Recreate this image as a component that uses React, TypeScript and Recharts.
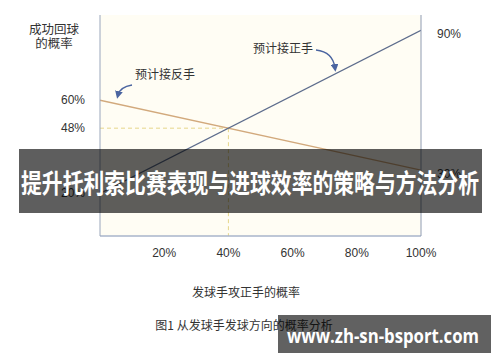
import React from "react";
import { LineChart, Line, XAxis, YAxis, ReferenceLine, CartesianGrid } from "recharts";

const xValues = [0, 100];
const forehand = [20, 90];
const backhand = [60, 30];
const xTicks = [20, 40, 60, 80, 100];
const leftTicks = [20, 48, 60];
const rightTicks = [30, 90];
const crossX = 40;
const crossY = 48;

const forehandData = xValues.map((x, i) => ({ x, y: forehand[i] }));
const backhandData = xValues.map((x, i) => ({ x, y: backhand[i] }));

const FONT = "'Liberation Sans', 'Noto Sans CJK SC', sans-serif";
const CJK = "'Noto Sans CJK SC', sans-serif";
const Y_DOMAIN: [number, number] = [1.7, 96.6];

const XTick = (p: any) => (
  <text x={p.x} y={257} textAnchor="middle" fontSize={12} fill="#333" fontFamily={FONT}>
    {p.payload.value}%
  </text>
);
const LTick = (p: any) => (
  <text x={85} y={p.y + 4} textAnchor="end" fontSize={12} fill="#333" fontFamily={FONT}>
    {p.payload.value}%
  </text>
);
const RTick = (p: any) => (
  <text x={437} y={p.y + 8} textAnchor="start" fontSize={12} fill="#333" fontFamily={FONT}>
    {p.payload.value}%
  </text>
);

export default function App() {
  return (
    <div style={{ position: "absolute", left: 0, top: 0, width: 500, height: 362, background: "#fff" }}>
      <LineChart width={500} height={362} margin={{ top: 15, right: 0, left: 0, bottom: 96 }}>
        <CartesianGrid horizontal={false} vertical={false} fill="#fffdf4" />
        <XAxis
          type="number"
          dataKey="x"
          domain={[0, 100]}
          ticks={xTicks}
          allowDataOverflow
          height={30}
          axisLine={{ stroke: "#a9b4cb", strokeWidth: 1.5 }}
          tickLine={false}
          tick={<XTick />}
        />
        <YAxis
          type="number"
          domain={Y_DOMAIN}
          ticks={leftTicks}
          allowDataOverflow
          width={100}
          axisLine={{ stroke: "#9aa6bb" }}
          tickLine={false}
          tick={<LTick />}
        />
        <YAxis
          yAxisId="r"
          orientation="right"
          type="number"
          domain={Y_DOMAIN}
          ticks={rightTicks}
          allowDataOverflow
          width={79}
          axisLine={{ stroke: "#8f9bb2" }}
          tickLine={false}
          tick={<RTick />}
        />
        <ReferenceLine
          segment={[{ x: 0, y: crossY }, { x: crossX, y: crossY }]}
          stroke="#e6d68a"
          strokeDasharray="4 3"
        />
        <ReferenceLine
          segment={[{ x: crossX, y: crossY }, { x: crossX, y: Y_DOMAIN[0] }]}
          stroke="#e6d68a"
          strokeDasharray="4 3"
        />
        <Line
          data={backhandData}
          dataKey="y"
          type="linear"
          stroke="#d2a97c"
          strokeWidth={1.3}
          dot={false}
          isAnimationActive={false}
        />
        <Line
          data={forehandData}
          dataKey="y"
          type="linear"
          stroke="#5d6c8c"
          strokeWidth={1.3}
          dot={false}
          isAnimationActive={false}
        />
      </LineChart>
      <svg
        width={500}
        height={362}
        style={{ position: "absolute", left: 0, top: 0, pointerEvents: "none" }}
      >
        <defs>
          <marker id="ah" markerWidth="6" markerHeight="6" refX="3" refY="3" orient="auto">
            <path d="M0,0 L6,3 L0,6 Z" fill="#4a64a0" />
          </marker>
        </defs>
        <text x={54} y={34} textAnchor="middle" fontSize={12.5} fill="#333" fontFamily={CJK}>成功回球</text>
        <text x={54} y={48} textAnchor="middle" fontSize={12.5} fill="#333" fontFamily={CJK}>的概率</text>
        <text x={165} y={79} textAnchor="middle" fontSize={12} fill="#333" fontFamily={CJK}>预计接反手</text>
        <path d="M132,85 Q120,87 118,95" stroke="#4a64a0" strokeWidth={1.3} fill="none" markerEnd="url(#ah)" />
        <text x={283} y={53} textAnchor="middle" fontSize={12} fill="#333" fontFamily={CJK}>预计接正手</text>
        <path d="M316,50 Q333,52 335,68" stroke="#4a64a0" strokeWidth={1.3} fill="none" markerEnd="url(#ah)" />
        <text x={246} y={297} textAnchor="middle" fontSize={12} fill="#333" fontFamily={CJK}>发球手攻正手的概率</text>
        <text x={244} y={330} textAnchor="middle" fontSize={12} fill="#333" fontFamily={CJK}>图1 从发球手发球方向的概率分析</text>
        <rect x={19} y={149} width={463} height={64} fill="rgba(0,0,0,0.63)" />
        <text
          x={21}
          y={193}
          fontSize={26}
          fontWeight={700}
          fill="#fff"
          fontFamily={CJK}
          textLength={458}
          lengthAdjust="spacingAndGlyphs"
        >
          提升托利索比赛表现与进球效率的策略与方法分析
        </text>
        <rect x={278} y={315} width={213} height={38} fill="rgba(0,0,0,0.62)" />
        <text
          x={287}
          y={343}
          fontSize={20}
          fontWeight={700}
          fill="#fff"
          fontFamily="'Open Sans', sans-serif"
          textLength={192}
          lengthAdjust="spacingAndGlyphs"
        >
          www.zh-sn-bsport.com
        </text>
      </svg>
    </div>
  );
}
